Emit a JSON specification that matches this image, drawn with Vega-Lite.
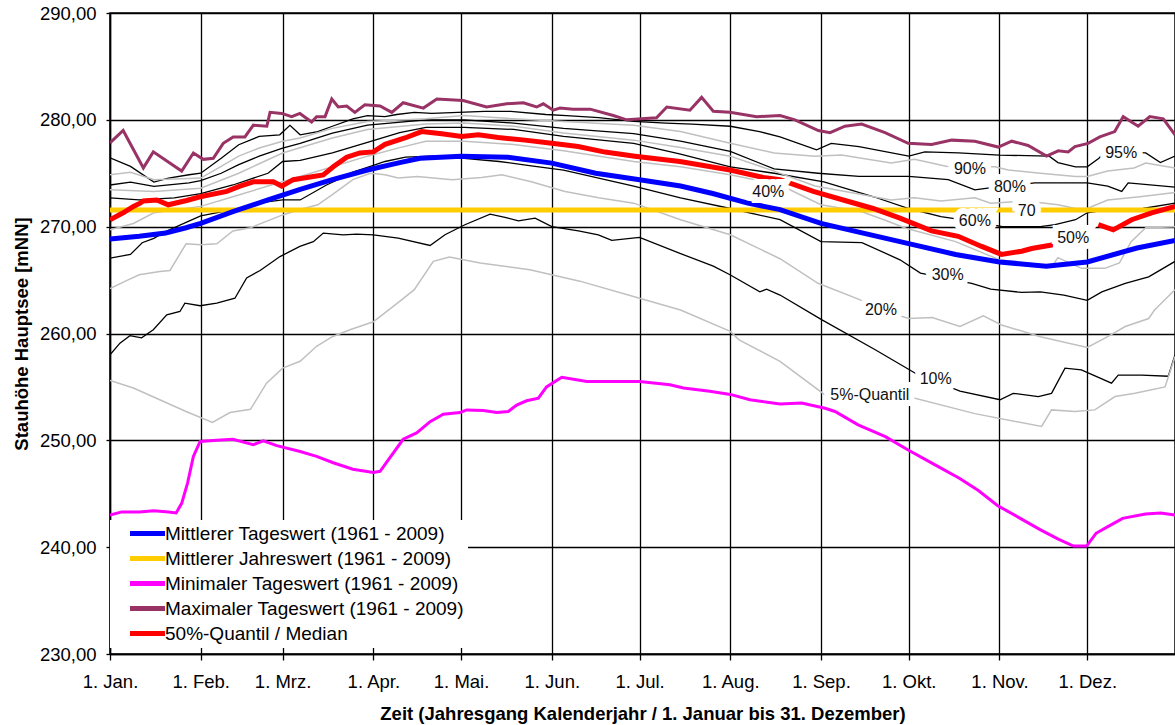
{
"$schema":"https://vega.github.io/schema/vega-lite/v6.json",
"width":1065,"height":641,
"autosize":{"type":"none"},
"padding":{"left":110,"top":13,"right":0,"bottom":71},
"background":"white",
"config":{"font":"Liberation Sans","view":{"stroke":"black","strokeWidth":1.5},
"axis":{"domainColor":"black","domainWidth":1.5,"gridColor":"black","gridWidth":1.3,"gridOpacity":1,"tickColor":"black","tickWidth":1.3,"labelColor":"black","labelFontSize":18.5,"labelFont":"Liberation Sans","titleFont":"Liberation Sans","titleFontSize":18.5,"titleFontWeight":"bold","titleColor":"black"}},
"datasets":{
"mean":[{"d":0,"v":268.84},{"d":10,"v":269.1},{"d":19,"v":269.4},{"d":26,"v":269.9},{"d":31,"v":270.3},{"d":42,"v":271.4},{"d":54,"v":272.5},{"d":65,"v":273.5},{"d":76,"v":274.4},{"d":88,"v":275.3},{"d":99,"v":276.0},{"d":106,"v":276.4},{"d":120,"v":276.6},{"d":136,"v":276.5},{"d":151,"v":275.95},{"d":166,"v":275.0},{"d":181,"v":274.4},{"d":195,"v":273.8},{"d":206,"v":273.1},{"d":218,"v":272.2},{"d":229,"v":271.6},{"d":243,"v":270.3},{"d":270,"v":268.6},{"d":289,"v":267.4},{"d":304,"v":266.7},{"d":320,"v":266.3},{"d":334,"v":266.7},{"d":351,"v":268.0},{"d":364,"v":268.7}],
"year":[{"d":0,"v":271.55},{"d":364,"v":271.55}],
"min":[{"d":0,"v":243.0},{"d":4,"v":243.3},{"d":10,"v":243.3},{"d":15,"v":243.4},{"d":20,"v":243.3},{"d":22.6,"v":243.2},{"d":24.5,"v":244.1},{"d":26.5,"v":246.0},{"d":28.5,"v":248.5},{"d":30.8,"v":249.9},{"d":36.5,"v":250.0},{"d":42,"v":250.1},{"d":49,"v":249.6},{"d":52.4,"v":249.95},{"d":57,"v":249.5},{"d":65,"v":248.95},{"d":70.6,"v":248.5},{"d":76.3,"v":247.9},{"d":83,"v":247.3},{"d":90,"v":247.0},{"d":92.3,"v":247.1},{"d":100.2,"v":250.1},{"d":104.8,"v":250.7},{"d":109.4,"v":251.75},{"d":113.9,"v":252.45},{"d":119.6,"v":252.6},{"d":121.9,"v":252.85},{"d":127.6,"v":252.8},{"d":132.2,"v":252.6},{"d":136.1,"v":252.7},{"d":139,"v":253.3},{"d":142.4,"v":253.7},{"d":146.4,"v":253.95},{"d":149.2,"v":255.0},{"d":154.4,"v":255.9},{"d":163,"v":255.5},{"d":181,"v":255.5},{"d":191.4,"v":255.2},{"d":196,"v":254.9},{"d":205,"v":254.6},{"d":212,"v":254.3},{"d":218.7,"v":253.8},{"d":229,"v":253.4},{"d":236.4,"v":253.5},{"d":244.4,"v":253.0},{"d":247.8,"v":252.7},{"d":255.7,"v":251.45},{"d":265,"v":250.35},{"d":272.8,"v":249.1},{"d":282,"v":247.7},{"d":290.3,"v":246.45},{"d":296.8,"v":245.3},{"d":303.3,"v":243.9},{"d":311.1,"v":242.7},{"d":318.2,"v":241.6},{"d":324.1,"v":240.75},{"d":329.3,"v":240.1},{"d":333.8,"v":240.1},{"d":337,"v":241.3},{"d":340.9,"v":241.9},{"d":346.1,"v":242.7},{"d":353.9,"v":243.1},{"d":359.1,"v":243.2},{"d":364,"v":243.0}],
"max":[{"d":0,"v":277.85},{"d":4.5,"v":279.0},{"d":11.4,"v":275.5},{"d":14.8,"v":277.0},{"d":24.5,"v":275.2},{"d":28.5,"v":276.9},{"d":31.9,"v":276.3},{"d":35.3,"v":276.4},{"d":38.7,"v":277.8},{"d":42.1,"v":278.4},{"d":46.1,"v":278.4},{"d":49,"v":279.5},{"d":53.6,"v":279.4},{"d":54.7,"v":280.7},{"d":58.7,"v":280.6},{"d":62.1,"v":280.3},{"d":64.9,"v":280.6},{"d":68.9,"v":279.8},{"d":70.6,"v":280.3},{"d":73.5,"v":280.3},{"d":75.8,"v":281.95},{"d":78,"v":281.2},{"d":80.9,"v":281.3},{"d":83.7,"v":280.7},{"d":87.1,"v":281.4},{"d":92.3,"v":281.3},{"d":96.3,"v":280.7},{"d":100.2,"v":281.6},{"d":107.1,"v":281.1},{"d":111.7,"v":281.95},{"d":120.7,"v":281.8},{"d":128.7,"v":281.2},{"d":135.6,"v":281.5},{"d":141.3,"v":281.6},{"d":145.8,"v":281.2},{"d":148.1,"v":281.5},{"d":151.5,"v":280.9},{"d":153.8,"v":281.1},{"d":158.3,"v":281.0},{"d":164.1,"v":281.0},{"d":172,"v":280.4},{"d":176.6,"v":280.0},{"d":186.8,"v":280.2},{"d":190.3,"v":281.2},{"d":198.2,"v":280.9},{"d":202.2,"v":282.1},{"d":206.2,"v":280.8},{"d":211.9,"v":280.7},{"d":221,"v":280.3},{"d":229,"v":280.4},{"d":234.1,"v":280.0},{"d":242.1,"v":279.0},{"d":246.1,"v":278.8},{"d":251.2,"v":279.4},{"d":256.9,"v":279.6},{"d":264.9,"v":278.8},{"d":272.8,"v":277.8},{"d":280.8,"v":277.7},{"d":287.7,"v":278.1},{"d":295.6,"v":278.0},{"d":303.6,"v":277.45},{"d":308.2,"v":278.0},{"d":313.8,"v":277.6},{"d":320.1,"v":276.6},{"d":324.1,"v":277.1},{"d":327.5,"v":277.0},{"d":329.8,"v":277.5},{"d":334.3,"v":277.8},{"d":338.3,"v":278.4},{"d":343.4,"v":278.9},{"d":346.3,"v":280.3},{"d":351.4,"v":279.4},{"d":355.4,"v":280.3},{"d":360,"v":280.1},{"d":364,"v":278.6}],
"med":[{"p":1,"d":0,"v":270.65},{"p":1,"d":4.5,"v":271.3},{"p":1,"d":8,"v":271.9},{"p":1,"d":10.3,"v":272.2},{"p":1,"d":11.4,"v":272.4},{"p":1,"d":16,"v":272.5},{"p":1,"d":19.9,"v":272.05},{"p":1,"d":26.2,"v":272.45},{"p":1,"d":30.8,"v":272.8},{"p":1,"d":39.9,"v":273.3},{"p":1,"d":44.4,"v":273.8},{"p":1,"d":49,"v":274.2},{"p":1,"d":55.8,"v":274.2},{"p":1,"d":58.7,"v":273.8},{"p":1,"d":62.6,"v":274.4},{"p":1,"d":72.9,"v":274.85},{"p":1,"d":76.3,"v":275.6},{"p":1,"d":80.9,"v":276.5},{"p":1,"d":85.4,"v":276.9},{"p":1,"d":90,"v":277.0},{"p":1,"d":94,"v":277.7},{"p":1,"d":100.8,"v":278.3},{"p":1,"d":106.5,"v":278.9},{"p":1,"d":113.4,"v":278.7},{"p":1,"d":120.2,"v":278.45},{"p":1,"d":125.9,"v":278.6},{"p":1,"d":132.7,"v":278.35},{"p":1,"d":141.8,"v":278.1},{"p":1,"d":151,"v":277.8},{"p":1,"d":160,"v":277.5},{"p":1,"d":169.2,"v":276.98},{"p":1,"d":179.4,"v":276.6},{"p":1,"d":194.8,"v":276.1},{"p":1,"d":211.9,"v":275.3},{"p":1,"d":223.3,"v":274.6},{"p":1,"d":229,"v":274.4},{"p":1,"d":240.4,"v":273.3},{"p":1,"d":251.8,"v":272.4},{"p":1,"d":260.8,"v":271.7},{"p":1,"d":270,"v":270.8},{"p":1,"d":280.8,"v":269.6},{"p":1,"d":289.9,"v":269.1},{"p":1,"d":297.9,"v":268.15},{"p":1,"d":304.7,"v":267.4},{"p":1,"d":311.6,"v":267.7},{"p":1,"d":315,"v":267.95},{"p":1,"d":322.4,"v":268.3},{"p":2,"d":337.8,"v":270.2},{"p":2,"d":342.9,"v":269.7},{"p":2,"d":349.2,"v":270.65},{"p":2,"d":356,"v":271.3},{"p":2,"d":364,"v":271.9}],
"q":[
{"q":"95%","d":0,"v":276.45},{"q":"95%","d":7,"v":275.64},{"q":"95%","d":15,"v":274.17},{"q":"95%","d":20,"v":274.55},{"q":"95%","d":27,"v":274.86},{"q":"95%","d":31,"v":275.0},{"q":"95%","d":38,"v":276.4},{"q":"95%","d":44,"v":277.67},{"q":"95%","d":51,"v":278.45},{"q":"95%","d":58,"v":278.6},{"q":"95%","d":61.5,"v":279.48},{"q":"95%","d":65,"v":278.6},{"q":"95%","d":71,"v":278.9},{"q":"95%","d":76,"v":279.4},{"q":"95%","d":83,"v":280.1},{"q":"95%","d":88,"v":280.4},{"q":"95%","d":94,"v":280.3},{"q":"95%","d":98,"v":280.5},{"q":"95%","d":104,"v":280.7},{"q":"95%","d":110,"v":280.6},{"q":"95%","d":119,"v":280.7},{"q":"95%","d":128,"v":280.8},{"q":"95%","d":137,"v":280.8},{"q":"95%","d":149,"v":280.5},{"q":"95%","d":156,"v":280.4},{"q":"95%","d":167,"v":280.2},{"q":"95%","d":179,"v":279.85},{"q":"95%","d":190,"v":279.7},{"q":"95%","d":199,"v":279.6},{"q":"95%","d":212,"v":279.4},{"q":"95%","d":222,"v":278.9},{"q":"95%","d":229,"v":278.4},{"q":"95%","d":241.5,"v":277.2},{"q":"95%","d":246.5,"v":277.8},{"q":"95%","d":256,"v":277.5},{"q":"95%","d":273,"v":276.6},{"q":"95%","d":278.5,"v":277.0},{"q":"95%","d":290,"v":276.9},{"q":"95%","d":304,"v":276.7},{"q":"95%","d":321,"v":276.6},{"q":"95%","d":324,"v":276.0},{"q":"95%","d":330,"v":275.6},{"q":"95%","d":334,"v":275.6},{"q":"95%","d":338,"v":276.4},{"q":"95%","d":340,"v":277.0},{"q":"95%","d":345,"v":277.0},{"q":"95%","d":354,"v":276.9},{"q":"95%","d":359,"v":276.0},{"q":"95%","d":364,"v":276.6},
{"q":"90%","d":0,"v":274.86},{"q":"90%","d":7,"v":275.1},{"q":"90%","d":15,"v":274.4},{"q":"90%","d":27,"v":274.5},{"q":"90%","d":31,"v":274.55},{"q":"90%","d":38,"v":275.64},{"q":"90%","d":44,"v":276.6},{"q":"90%","d":51,"v":277.36},{"q":"90%","d":59,"v":278.0},{"q":"90%","d":65,"v":278.3},{"q":"90%","d":76,"v":279.2},{"q":"90%","d":88,"v":279.85},{"q":"90%","d":108,"v":280.1},{"q":"90%","d":121,"v":280.4},{"q":"90%","d":138,"v":280.1},{"q":"90%","d":155,"v":279.85},{"q":"90%","d":179,"v":279.5},{"q":"90%","d":195,"v":278.9},{"q":"90%","d":212,"v":277.8},{"q":"90%","d":227,"v":276.9},{"q":"90%","d":241,"v":276.6},{"q":"90%","d":250,"v":276.7},{"q":"90%","d":267,"v":275.95},{"q":"90%","d":275,"v":276.3},{"q":"90%","d":286.5,"v":275.6},{"q":"90%","d":294,"v":275.6},{"q":"90%","d":302.5,"v":275.6},{"q":"90%","d":307,"v":275.3},{"q":"90%","d":318,"v":275.0},{"q":"90%","d":330,"v":274.7},{"q":"90%","d":334,"v":274.7},{"q":"90%","d":341,"v":275.2},{"q":"90%","d":350,"v":275.5},{"q":"90%","d":354,"v":275.95},{"q":"90%","d":364,"v":275.5},
{"q":"80%","d":0,"v":273.9},{"q":"80%","d":7,"v":274.17},{"q":"80%","d":15,"v":273.77},{"q":"80%","d":27,"v":274.1},{"q":"80%","d":31,"v":274.3},{"q":"80%","d":38,"v":275.0},{"q":"80%","d":44,"v":275.8},{"q":"80%","d":51,"v":276.6},{"q":"80%","d":59,"v":277.36},{"q":"80%","d":65,"v":277.8},{"q":"80%","d":76,"v":278.76},{"q":"80%","d":88,"v":279.5},{"q":"80%","d":108,"v":280.0},{"q":"80%","d":121,"v":280.0},{"q":"80%","d":138,"v":279.7},{"q":"80%","d":155,"v":279.2},{"q":"80%","d":179,"v":278.7},{"q":"80%","d":195,"v":278.0},{"q":"80%","d":212,"v":277.05},{"q":"80%","d":227,"v":275.4},{"q":"80%","d":242,"v":275.0},{"q":"80%","d":256,"v":274.7},{"q":"80%","d":273,"v":274.7},{"q":"80%","d":286.5,"v":274.4},{"q":"80%","d":295.6,"v":273.45},{"q":"80%","d":300,"v":273.6},{"q":"80%","d":307.6,"v":273.8},{"q":"80%","d":316,"v":274.1},{"q":"80%","d":330,"v":274.1},{"q":"80%","d":334,"v":274.1},{"q":"80%","d":341,"v":273.8},{"q":"80%","d":345.8,"v":273.3},{"q":"80%","d":348,"v":274.1},{"q":"80%","d":364,"v":273.7},
{"q":"70%","d":0,"v":273.45},{"q":"70%","d":15,"v":273.3},{"q":"70%","d":31,"v":273.6},{"q":"70%","d":44,"v":275.0},{"q":"70%","d":59,"v":276.9},{"q":"70%","d":76,"v":278.3},{"q":"70%","d":88,"v":279.1},{"q":"70%","d":108,"v":279.6},{"q":"70%","d":121,"v":279.7},{"q":"70%","d":138,"v":279.4},{"q":"70%","d":155,"v":278.76},{"q":"70%","d":179,"v":278.1},{"q":"70%","d":195,"v":277.4},{"q":"70%","d":212,"v":276.6},{"q":"70%","d":227,"v":275.2},{"q":"70%","d":241,"v":273.8},{"q":"70%","d":255,"v":273.1},{"q":"70%","d":267,"v":272.5},{"q":"70%","d":275,"v":272.7},{"q":"70%","d":284,"v":272.4},{"q":"70%","d":295.6,"v":272.7},{"q":"70%","d":301,"v":272.2},{"q":"70%","d":313,"v":272.4},{"q":"70%","d":324,"v":272.05},{"q":"70%","d":330,"v":271.7},{"q":"70%","d":334,"v":271.7},{"q":"70%","d":341,"v":272.5},{"q":"70%","d":352,"v":272.8},{"q":"70%","d":364,"v":273.2},
{"q":"60%","d":0,"v":272.7},{"q":"60%","d":10,"v":272.5},{"q":"60%","d":22,"v":272.7},{"q":"60%","d":31,"v":273.1},{"q":"60%","d":42,"v":273.9},{"q":"60%","d":54,"v":275.0},{"q":"60%","d":59,"v":276.1},{"q":"60%","d":65,"v":276.2},{"q":"60%","d":76,"v":276.9},{"q":"60%","d":88,"v":277.9},{"q":"60%","d":99,"v":278.8},{"q":"60%","d":108,"v":279.3},{"q":"60%","d":121,"v":279.3},{"q":"60%","d":138,"v":279.1},{"q":"60%","d":155,"v":278.45},{"q":"60%","d":179,"v":277.8},{"q":"60%","d":195,"v":276.8},{"q":"60%","d":212,"v":275.6},{"q":"60%","d":227,"v":275.0},{"q":"60%","d":244,"v":274.2},{"q":"60%","d":261,"v":272.8},{"q":"60%","d":273,"v":271.7},{"q":"60%","d":284,"v":270.95},{"q":"60%","d":295,"v":270.5},{"q":"60%","d":305,"v":270.0},{"q":"60%","d":318,"v":270.0},{"q":"60%","d":323,"v":270.2},{"q":"60%","d":330,"v":270.65},{"q":"60%","d":334,"v":271.3},{"q":"60%","d":341,"v":271.6},{"q":"60%","d":353,"v":271.7},{"q":"60%","d":364,"v":272.2},
{"q":"40%","d":0,"v":269.7},{"q":"40%","d":8,"v":270.3},{"q":"40%","d":15,"v":271.3},{"q":"40%","d":26,"v":271.7},{"q":"40%","d":31,"v":271.9},{"q":"40%","d":42,"v":272.8},{"q":"40%","d":54,"v":273.8},{"q":"40%","d":65,"v":274.7},{"q":"40%","d":76,"v":275.6},{"q":"40%","d":88,"v":276.6},{"q":"40%","d":99,"v":277.4},{"q":"40%","d":108,"v":278.0},{"q":"40%","d":121,"v":278.0},{"q":"40%","d":138,"v":277.7},{"q":"40%","d":155,"v":277.1},{"q":"40%","d":179,"v":276.1},{"q":"40%","d":195,"v":275.6},{"q":"40%","d":212,"v":274.86},{"q":"40%","d":229,"v":273.9},{"q":"40%","d":243,"v":272.05},{"q":"40%","d":257,"v":271.4},{"q":"40%","d":265,"v":270.6},{"q":"40%","d":272,"v":269.85},{"q":"40%","d":289,"v":268.6},{"q":"40%","d":304,"v":266.9},{"q":"40%","d":322,"v":266.3},{"q":"40%","d":324,"v":267.1},{"q":"40%","d":332,"v":266.1},{"q":"40%","d":340,"v":266.1},{"q":"40%","d":345,"v":266.6},{"q":"40%","d":349,"v":268.6},{"q":"40%","d":354,"v":269.9},{"q":"40%","d":364,"v":270.0},
{"q":"30%","d":0,"v":267.06},{"q":"30%","d":7,"v":267.4},{"q":"30%","d":11,"v":268.5},{"q":"30%","d":15,"v":268.9},{"q":"30%","d":19,"v":269.55},{"q":"30%","d":26,"v":270.4},{"q":"30%","d":31,"v":271.0},{"q":"30%","d":42,"v":271.6},{"q":"30%","d":53,"v":272.3},{"q":"30%","d":59,"v":272.5},{"q":"30%","d":65,"v":272.5},{"q":"30%","d":74,"v":273.9},{"q":"30%","d":79,"v":274.55},{"q":"30%","d":83,"v":275.1},{"q":"30%","d":89,"v":275.64},{"q":"30%","d":94,"v":276.1},{"q":"30%","d":101,"v":276.5},{"q":"30%","d":110,"v":276.6},{"q":"30%","d":121,"v":276.4},{"q":"30%","d":133,"v":276.1},{"q":"30%","d":144,"v":275.7},{"q":"30%","d":155,"v":275.3},{"q":"30%","d":167,"v":274.55},{"q":"30%","d":179,"v":273.8},{"q":"30%","d":195,"v":272.7},{"q":"30%","d":212,"v":271.7},{"q":"30%","d":229,"v":270.65},{"q":"30%","d":243,"v":268.6},{"q":"30%","d":257,"v":268.5},{"q":"30%","d":270,"v":266.9},{"q":"30%","d":277,"v":265.65},{"q":"30%","d":294.5,"v":264.7},{"q":"30%","d":301,"v":264.15},{"q":"30%","d":311.6,"v":263.85},{"q":"30%","d":318,"v":263.9},{"q":"30%","d":326,"v":263.6},{"q":"30%","d":334,"v":263.1},{"q":"30%","d":339,"v":263.9},{"q":"30%","d":347,"v":264.7},{"q":"30%","d":355,"v":265.3},{"q":"30%","d":364,"v":266.75},
{"q":"20%","d":0,"v":264.2},{"q":"20%","d":6,"v":265.0},{"q":"20%","d":10,"v":265.5},{"q":"20%","d":17,"v":265.8},{"q":"20%","d":20.5,"v":265.9},{"q":"20%","d":26,"v":268.4},{"q":"20%","d":31,"v":268.3},{"q":"20%","d":36.5,"v":268.4},{"q":"20%","d":42,"v":269.6},{"q":"20%","d":48,"v":269.9},{"q":"20%","d":59,"v":271.1},{"q":"20%","d":65,"v":271.6},{"q":"20%","d":71,"v":272.05},{"q":"20%","d":76,"v":273.0},{"q":"20%","d":83,"v":274.4},{"q":"20%","d":89,"v":275.0},{"q":"20%","d":94,"v":274.86},{"q":"20%","d":98.5,"v":274.55},{"q":"20%","d":105,"v":274.7},{"q":"20%","d":117,"v":274.4},{"q":"20%","d":127,"v":274.6},{"q":"20%","d":134,"v":274.86},{"q":"20%","d":144,"v":274.2},{"q":"20%","d":155.5,"v":273.3},{"q":"20%","d":167,"v":272.7},{"q":"20%","d":179,"v":272.2},{"q":"20%","d":195,"v":270.65},{"q":"20%","d":212,"v":269.24},{"q":"20%","d":229,"v":267.0},{"q":"20%","d":242,"v":264.7},{"q":"20%","d":256,"v":263.2},{"q":"20%","d":263.5,"v":262.2},{"q":"20%","d":273,"v":261.4},{"q":"20%","d":281,"v":261.5},{"q":"20%","d":290.5,"v":260.65},{"q":"20%","d":298.5,"v":261.65},{"q":"20%","d":304.7,"v":260.8},{"q":"20%","d":318,"v":259.7},{"q":"20%","d":334,"v":258.7},{"q":"20%","d":341,"v":259.7},{"q":"20%","d":347,"v":260.65},{"q":"20%","d":355,"v":261.4},{"q":"20%","d":357,"v":262.2},{"q":"20%","d":364,"v":264.1},
{"q":"10%","d":0,"v":258.0},{"q":"10%","d":3.4,"v":259.1},{"q":"10%","d":6.8,"v":259.8},{"q":"10%","d":10.8,"v":259.6},{"q":"10%","d":14.8,"v":260.35},{"q":"10%","d":19.4,"v":261.75},{"q":"10%","d":23.9,"v":262.06},{"q":"10%","d":25.6,"v":262.84},{"q":"10%","d":30.8,"v":262.6},{"q":"10%","d":36.5,"v":262.84},{"q":"10%","d":42.7,"v":263.3},{"q":"10%","d":46.7,"v":265.2},{"q":"10%","d":51.3,"v":265.9},{"q":"10%","d":58.1,"v":267.2},{"q":"10%","d":64.9,"v":268.15},{"q":"10%","d":69.5,"v":268.6},{"q":"10%","d":72.9,"v":269.4},{"q":"10%","d":79.7,"v":269.24},{"q":"10%","d":84.3,"v":269.3},{"q":"10%","d":90,"v":269.24},{"q":"10%","d":98.5,"v":268.93},{"q":"10%","d":109.4,"v":268.24},{"q":"10%","d":114.5,"v":269.24},{"q":"10%","d":121.3,"v":270.18},{"q":"10%","d":129.9,"v":271.18},{"q":"10%","d":135,"v":270.87},{"q":"10%","d":139.6,"v":270.55},{"q":"10%","d":145.3,"v":270.8},{"q":"10%","d":151,"v":270.0},{"q":"10%","d":160.1,"v":269.6},{"q":"10%","d":166.9,"v":269.24},{"q":"10%","d":171.5,"v":268.71},{"q":"10%","d":181,"v":269.0},{"q":"10%","d":194.8,"v":267.5},{"q":"10%","d":206.2,"v":266.3},{"q":"10%","d":211.9,"v":265.5},{"q":"10%","d":222.1,"v":263.9},{"q":"10%","d":224.4,"v":264.15},{"q":"10%","d":229,"v":263.6},{"q":"10%","d":243.2,"v":261.3},{"q":"10%","d":261.4,"v":258.5},{"q":"10%","d":275.1,"v":256.3},{"q":"10%","d":290.5,"v":254.6},{"q":"10%","d":304.2,"v":253.8},{"q":"10%","d":308.7,"v":254.4},{"q":"10%","d":317.3,"v":254.1},{"q":"10%","d":321.8,"v":254.4},{"q":"10%","d":326.4,"v":256.75},{"q":"10%","d":332,"v":256.6},{"q":"10%","d":342.3,"v":255.35},{"q":"10%","d":344.6,"v":256.1},{"q":"10%","d":352.6,"v":256.1},{"q":"10%","d":361.7,"v":256.0},{"q":"10%","d":364,"v":258.0},
{"q":"5%","d":0,"v":255.6},{"q":"5%","d":8,"v":254.9},{"q":"5%","d":17,"v":253.8},{"q":"5%","d":26,"v":252.7},{"q":"5%","d":35,"v":251.67},{"q":"5%","d":41,"v":252.6},{"q":"5%","d":48,"v":252.9},{"q":"5%","d":53.5,"v":255.35},{"q":"5%","d":59,"v":256.76},{"q":"5%","d":65,"v":257.4},{"q":"5%","d":70.6,"v":258.8},{"q":"5%","d":76,"v":259.7},{"q":"5%","d":82,"v":260.35},{"q":"5%","d":90,"v":261.1},{"q":"5%","d":99,"v":263.0},{"q":"5%","d":104,"v":264.1},{"q":"5%","d":110.5,"v":266.75},{"q":"5%","d":116,"v":267.15},{"q":"5%","d":126.5,"v":266.6},{"q":"5%","d":143.5,"v":265.96},{"q":"5%","d":160.6,"v":264.9},{"q":"5%","d":181,"v":263.3},{"q":"5%","d":195,"v":262.2},{"q":"5%","d":212,"v":260.2},{"q":"5%","d":215,"v":259.4},{"q":"5%","d":229,"v":257.4},{"q":"5%","d":244.4,"v":254.25},{"q":"5%","d":259.7,"v":254.2},{"q":"5%","d":272.8,"v":254.1},{"q":"5%","d":295.6,"v":252.5},{"q":"5%","d":318.4,"v":251.3},{"q":"5%","d":321.8,"v":252.85},{"q":"5%","d":329.8,"v":252.7},{"q":"5%","d":336.6,"v":252.85},{"q":"5%","d":343.5,"v":254.1},{"q":"5%","d":350.3,"v":254.4},{"q":"5%","d":360.6,"v":255.0},{"q":"5%","d":364,"v":257.85}],
"lab":[{"t":"95%","d":345.6,"v":276.9},{"t":"90%","d":293.9,"v":275.4},{"t":"80%","d":307.6,"v":273.7},{"t":"70","d":313.3,"v":271.5},{"t":"60%","d":295.6,"v":270.5},{"t":"50%","d":329.2,"v":268.9},{"t":"40%","d":225,"v":273.2},{"t":"30%","d":286.3,"v":265.5},{"t":"20%","d":263.5,"v":262.2},{"t":"10%","d":282.2,"v":255.7},{"t":"5%-Quantil","d":259.7,"v":254.2}]
},
"encoding":{
"x":{"field":"d","type":"quantitative","scale":{"domain":[0,364],"nice":false,"zero":false},
"axis":{"values":[0,31,59,90,120,151,181,212,243,273,304,334],"labelExpr":"['1. Jan.','1. Feb.','1. Mrz.','1. Apr.','1. Mai.','1. Jun.','1. Jul.','1. Aug.','1. Sep.','1. Okt.','1. Nov.','1. Dez.'][indexof([0,31,59,90,120,151,181,212,243,273,304,334],datum.value)]","tickSize":6,"labelPadding":12,"labelFlush":false,"labelOverlap":false,"grid":true,"title":"Zeit (Jahresgang Kalenderjahr / 1. Januar bis 31. Dezember)","titlePadding":14}},
"y":{"field":"v","type":"quantitative","scale":{"domain":[230,290],"nice":false,"zero":false},
"axis":{"values":[230,240,250,260,270,280,290],"labelExpr":"replace(format(datum.value,'.2f'),'.',',')","tickSize":4,"labelPadding":10,"grid":true,"title":"Stauhöhe Hauptsee [mNN]","titlePadding":8}}
},
"layer":[
{"data":{"name":"q"},"transform":[{"filter":"indexof(['95%','80%','60%','30%','10%'],datum.q)>=0"}],"mark":{"type":"line","color":"black","strokeWidth":1.3,"clip":true},"encoding":{"detail":{"field":"q"}}},
{"data":{"name":"q"},"transform":[{"filter":"indexof(['90%','70%','40%','20%','5%'],datum.q)>=0"}],"mark":{"type":"line","color":"#c0c0c0","strokeWidth":1.5,"clip":true},"encoding":{"detail":{"field":"q"}}},
{"data":{"name":"year"},"mark":{"type":"line","strokeWidth":5,"clip":true},"encoding":{"color":{"datum":"Mittlerer Jahreswert (1961 - 2009)","type":"nominal",
"scale":{"domain":["Mittlerer Tageswert (1961 - 2009)","Mittlerer Jahreswert (1961 - 2009)","Minimaler Tageswert (1961 - 2009)","Maximaler Tageswert (1961 - 2009)","50%-Quantil / Median"],"range":["#0000ff","#ffcc00","#ff00ff","#993366","#ff0000"]},
"legend":{"orient":"none","legendX":0,"legendY":507,"fillColor":"white","padding":4,"title":null,"symbolType":"M1.3,0H8.3","symbolSize":100,"symbolStrokeWidth":5,"labelFontSize":19,"labelFont":"Liberation Sans","labelColor":"black","labelOffset":32,"rowPadding":4,"labelLimit":500}}}},
{"data":{"name":"mean"},"mark":{"type":"line","strokeWidth":5,"clip":true},"encoding":{"color":{"datum":"Mittlerer Tageswert (1961 - 2009)","type":"nominal"}}},
{"data":{"name":"min"},"mark":{"type":"line","strokeWidth":3,"clip":true},"encoding":{"color":{"datum":"Minimaler Tageswert (1961 - 2009)","type":"nominal"}}},
{"data":{"name":"max"},"mark":{"type":"line","strokeWidth":3,"clip":true},"encoding":{"color":{"datum":"Maximaler Tageswert (1961 - 2009)","type":"nominal"}}},
{"data":{"name":"med"},"mark":{"type":"line","strokeWidth":5,"clip":true},"encoding":{"detail":{"field":"p"},"color":{"datum":"50%-Quantil / Median","type":"nominal"}}},
{"data":{"name":"lab"},"mark":{"type":"text","fontSize":16,"font":"Liberation Sans","fill":"white","stroke":"white","strokeWidth":12,"strokeJoin":"miter"},"encoding":{"text":{"field":"t"}}},
{"data":{"name":"lab"},"mark":{"type":"text","fontSize":16,"font":"Liberation Sans","color":"#111111"},"encoding":{"text":{"field":"t"}}}
]
}
